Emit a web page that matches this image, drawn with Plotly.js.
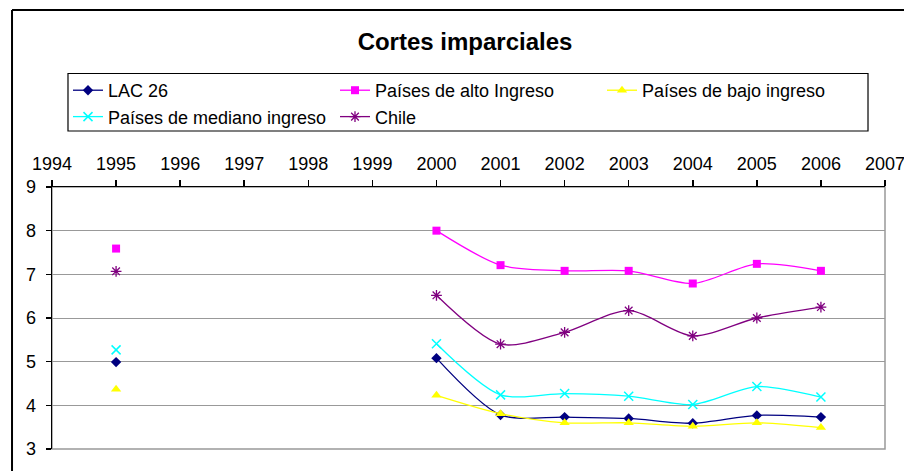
<!DOCTYPE html>
<html>
<head>
<meta charset="utf-8">
<script src="https://cdn.plot.ly/plotly-3.0.1.min.js"></script>
<style>body{margin:0;padding:0;background:#fff}#chart{width:904px;height:471px}</style>
</head>
<body>
<div id="chart"></div>
<script>
var years = [1995, 1996, 1997, 1998, 1999, 2000, 2001, 2002, 2003, 2004, 2005, 2006];
var lac26 =   [4.99, null, null, null, null, 5.08, 3.78, 3.73, 3.70, 3.59, 3.77, 3.73];
var alto =    [7.59, null, null, null, null, 8.00, 7.21, 7.08, 7.08, 6.79, 7.24, 7.08];
var bajo =    [4.37, null, null, null, null, 4.23, 3.81, 3.60, 3.60, 3.52, 3.60, 3.49];
var mediano = [5.27, null, null, null, null, 5.41, 4.24, 4.27, 4.21, 4.02, 4.43, 4.19];
var chile =   [7.07, null, null, null, null, 6.52, 5.40, 5.67, 6.17, 5.59, 6.00, 6.25];
var seriesNames = ['LAC 26', 'Países de alto Ingreso', 'Países de bajo ingreso', 'Países de mediano ingreso', 'Chile'];

function tr(name, y, color, symbol, size, lw) {
  return {
    x: years, y: y, name: name, type: 'scatter', mode: 'lines+markers',
    connectgaps: false,
    line: {color: color, width: 1.3, shape: 'spline', smoothing: 0.8},
    marker: {color: color, symbol: symbol, size: size, line: {color: color, width: lw}}
  };
}
var data = [
  tr(seriesNames[0], lac26, '#000080', 'diamond', 8, 0),
  tr(seriesNames[1], alto, '#FF00FF', 'square', 8, 0),
  tr(seriesNames[2], bajo, '#FFFF00', 'triangle-up', 9, 0),
  tr(seriesNames[3], mediano, '#00FFFF', 'x-thin-open', 9, 1.5),
  tr(seriesNames[4], chile, '#800080', 'asterisk-open', 9, 1.3)
];

var layout = {
  width: 904, height: 471,
  margin: {l: 52, r: 19, t: 187, b: 22},
  paper_bgcolor: '#fff', plot_bgcolor: '#fff',
  font: {family: 'Liberation Sans, Arial, sans-serif', size: 18, color: '#000'},
  title: {text: '<b>Cortes imparciales</b>', font: {size: 24, color: '#000'},
          x: 0.5144, xref: 'container', xanchor: 'center', y: 0.911, yref: 'container', yanchor: 'middle'},
  showlegend: true,
  legend: {
    orientation: 'h', x: 0.0192, y: 1.4389, xanchor: 'left', yanchor: 'top',
    borderwidth: 0, bgcolor: 'rgba(0,0,0,0)',
    font: {size: 18}, entrywidth: 222, entrywidthmode: 'pixels',
    itemwidth: 30, traceorder: 'normal'
  },
  xaxis: {
    side: 'top', range: [1994, 2007], dtick: 1, tick0: 1994,
    showgrid: false, zeroline: false,
    showline: true, linecolor: '#000', linewidth: 1.5,
    ticks: 'outside', ticklen: 6, tickcolor: '#000', tickwidth: 1.5,
    tickfont: {size: 18}, ticklabeloverflow: 'allow', ticklabelstandoff: 2
  },
  yaxis: {
    range: [3, 9], dtick: 1, tick0: 3,
    showgrid: true, gridcolor: '#999', gridwidth: 1, zeroline: false,
    showline: true, linecolor: '#000', linewidth: 1.5,
    ticks: 'outside', ticklen: 5, tickcolor: '#000', tickwidth: 1.5,
    tickfont: {size: 18}, ticklabelstandoff: 6
  },
  shapes: [
    {type: 'rect', xref: 'paper', yref: 'paper', x0: 0, x1: 1, y0: 0, y1: 1,
     line: {color: '#999', width: 1.5}, layer: 'below'},
    {type: 'rect', xref: 'paper', yref: 'paper', x0: 0.0192, x1: 0.9796, y0: 1.2137, y1: 1.4332,
     line: {color: '#000', width: 1.2}, fillcolor: 'rgba(0,0,0,0)'},
    {type: 'line', xref: 'paper', yref: 'paper', x0: -0.048, x1: -0.048, y0: -0.2, y1: 1.6756,
     line: {color: '#000', width: 2}},
    {type: 'line', xref: 'paper', yref: 'paper', x0: -0.048, x1: 1.1, y0: 1.6756, y1: 1.6756,
     line: {color: '#000', width: 2}}
  ]
};
Plotly.newPlot('chart', data, layout, {displayModeBar: false, staticPlot: true});
</script>
</body>
</html>
